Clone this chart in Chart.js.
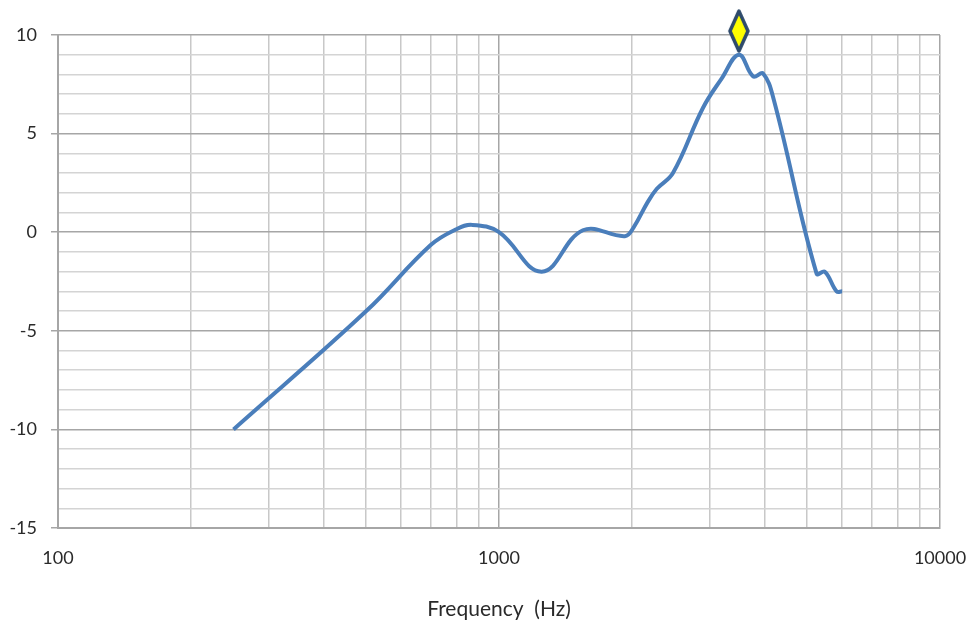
<!DOCTYPE html>
<html>
<head>
<meta charset="utf-8">
<script src="https://cdn.jsdelivr.net/npm/chart.js@4"></script>
<style>
  body { margin: 0; background: #fff; }
  canvas { display: block; }
</style>
</head>
<body>
<canvas id="freqChart" width="970" height="624"></canvas>
<script>
// response curve
const freqHz = [250, 500, 700, 800, 870, 1000, 1250, 1550, 1930, 2020, 2170, 2280, 2480, 2900, 3200, 3500, 3770, 3970, 4200, 5250, 5480, 5830, 6000];
const gainDb = [-10, -4, -0.65, 0.15, 0.37, 0, -2, 0.1, -0.2, 0.25, 1.5, 2.2, 3.0, 6.3, 7.8, 9.0, 7.9, 8.05, 6.7, -2.1, -2.0, -3.0, -3.0];

// peak marker
const peakFreq = [3500];
const peakMark = [10.2];

const xTicks = [100, 200, 300, 400, 500, 600, 700, 800, 900, 1000, 2000, 3000, 4000, 5000, 6000, 7000, 8000, 9000, 10000];
const xLabels = [100, 1000, 10000];
const yMajor = [-15, -10, -5, 0, 5, 10];

document.addEventListener("DOMContentLoaded", function () {
    const ctx = document.getElementById('freqChart').getContext('2d');

    // tall yellow diamond
    const diamond = document.createElement('canvas');
    diamond.width = 24;
    diamond.height = 46;
    const d = diamond.getContext('2d');
    d.beginPath();
    d.moveTo(12, 3);
    d.lineTo(21, 23);
    d.lineTo(12, 43);
    d.lineTo(3, 23);
    d.closePath();
    d.fillStyle = '#ffff00';
    d.fill();
    d.lineWidth = 3.5;
    d.lineJoin = 'round';
    d.strokeStyle = '#2e4a6b';
    d.stroke();

    const tickFont = { family: 'Lato', size: 18 };

    new Chart(ctx, {
        type: 'line',
        data: {
            datasets: [{
                data: freqHz.map((f, i) => ({ x: f, y: gainDb[i] })),
                borderColor: '#4a7ebb',
                borderWidth: 4,
                pointRadius: 0,
                tension: 0.4,
                fill: false
            }, {
                data: peakFreq.map((f, i) => ({ x: f, y: peakMark[i] })),
                showLine: false,
                pointStyle: diamond,
                pointRadius: 10,
                clip: false
            }]
        },
        options: {
            responsive: false,
            animation: false,
            layout: { padding: { top: 35, right: 30, left: 0, bottom: 0 } },
            plugins: {
                legend: { display: false },
                tooltip: { enabled: false }
            },
            scales: {
                x: {
                    type: 'logarithmic',
                    min: 100,
                    max: 10000,
                    afterBuildTicks: function (scale) {
                        scale.ticks = xTicks.map(v => ({ value: v }));
                    },
                    afterFit: function (scale) {
                        scale.height = 96;
                        scale.paddingLeft = 0;
                        scale.paddingRight = 0;
                    },
                    ticks: {
                        autoSkip: false,
                        maxRotation: 0,
                        padding: 19,
                        color: '#2a2a2a',
                        font: tickFont,
                        callback: function (v) {
                            return xLabels.includes(v) ? String(v) : '';
                        }
                    },
                    grid: {
                        drawTicks: false,
                        lineWidth: 1.5,
                        color: function (c) {
                            return xLabels.includes(c.tick.value) ? '#a6a6a6' : '#c8c8c8';
                        }
                    },
                    border: { color: '#a6a6a6', width: 2 },
                    title: {
                        display: true,
                        text: 'Frequency  (Hz)',
                        color: '#2a2a2a',
                        font: { family: 'Lato', size: 21 },
                        padding: { top: 0, bottom: 2 }
                    }
                },
                y: {
                    min: -15,
                    max: 10,
                    afterFit: function (scale) {
                        scale.width = 58;
                    },
                    ticks: {
                        stepSize: 1,
                        autoSkip: false,
                        padding: 14,
                        color: '#2a2a2a',
                        font: tickFont,
                        callback: function (v) {
                            return yMajor.includes(v) ? String(v) : '';
                        }
                    },
                    grid: {
                        tickLength: 7,
                        lineWidth: 1.5,
                        color: function (c) {
                            return yMajor.includes(c.tick.value) ? '#a6a6a6' : '#d4d4d4';
                        },
                        tickColor: function (c) {
                            return yMajor.includes(c.tick.value) ? '#a6a6a6' : 'rgba(0,0,0,0)';
                        }
                    },
                    border: { color: '#a6a6a6', width: 2 }
                }
            }
        }
    });
});
</script>
</body>
</html>
